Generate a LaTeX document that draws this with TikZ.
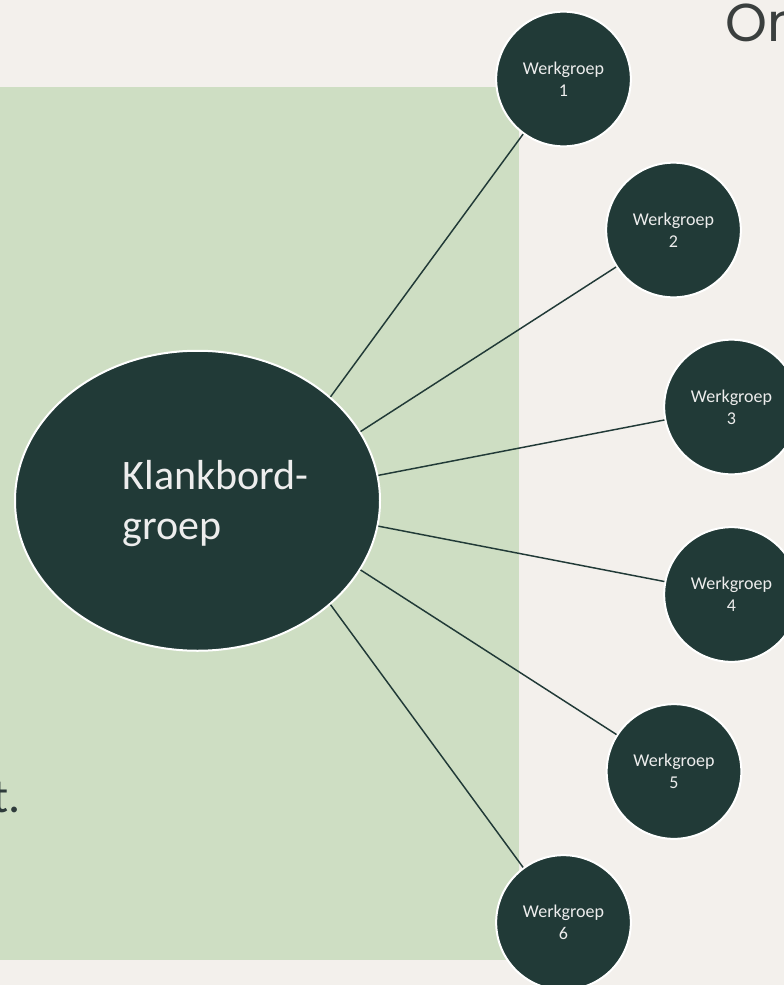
\documentclass[tikz,border=0pt]{standalone}
\usepackage{fontspec}
\setmainfont{Carlito}
\newfontfamily\titlefont{Poppins}
\usetikzlibrary{shapes.geometric}
\definecolor{bg}{HTML}{F3F0EC}
\definecolor{sage}{HTML}{CEDEC3}
\definecolor{dark}{HTML}{213A37}
\definecolor{lighttext}{HTML}{EDEDED}
\definecolor{ink}{HTML}{2E3B3B}
\definecolor{titleink}{HTML}{3A3F3E}
\begin{document}
\begin{tikzpicture}[x=0.75pt,y=-0.75pt,
  wg/.style={circle,draw=white,line width=1.5pt,fill=dark,minimum size=101pt,inner sep=0pt,
    text=lighttext,align=center,font=\fontsize{13.5}{16.5}\selectfont},
  hub/.style={ellipse,draw=white,line width=1.5pt,fill=dark,minimum width=273.75pt,
    minimum height=225pt,inner sep=0pt},
  hubtext/.style={inner sep=0pt,text=lighttext,align=left,font=\fontsize{31.5}{37.5}\selectfont},
  conn/.style={draw=dark,line width=1.1pt},
  bodytext/.style={inner sep=0pt,text=ink,font=\fontsize{36}{40}\selectfont},
  titletext/.style={inner sep=0pt,text=titleink,font=\titlefont\fontsize{40}{44}\selectfont}]
\fill[bg] (0,0) rectangle (784,985);
\useasboundingbox (0,0) rectangle (784,985);
\fill[sage] (0,87) rectangle (519,960);

\node[titletext,anchor=base west] (title) at (725,41) {On};
\node[bodytext,anchor=base east] (tail) at (21,812) {t.};

\node[hub] (hub) at (197.5,500.75) {};
\node[hubtext,anchor=west] (hubt) at (122.5,504) {Klankbord-\\groep};

\node[wg] (c1) at (563.5,79) {Werkgroep\\1};
\node[wg] (c2) at (673.5,230) {Werkgroep\\2};
\node[wg] (c3) at (731.5,407) {Werkgroep\\3};
\node[wg] (c4) at (731.5,594.5) {Werkgroep\\4};
\node[wg] (c5) at (674,771.5) {Werkgroep\\5};
\node[wg] (c6) at (563.5,922.5) {Werkgroep\\6};

\draw[conn] (hub.38) -- (c1);
\draw[conn] (hub.23) -- (c2);
\draw[conn] (hub.8.2) -- (c3);
\draw[conn] (hub.-8.2) -- (c4);
\draw[conn] (hub.-23) -- (c5);
\draw[conn] (hub.-38) -- (c6);
\end{tikzpicture}
\end{document}
